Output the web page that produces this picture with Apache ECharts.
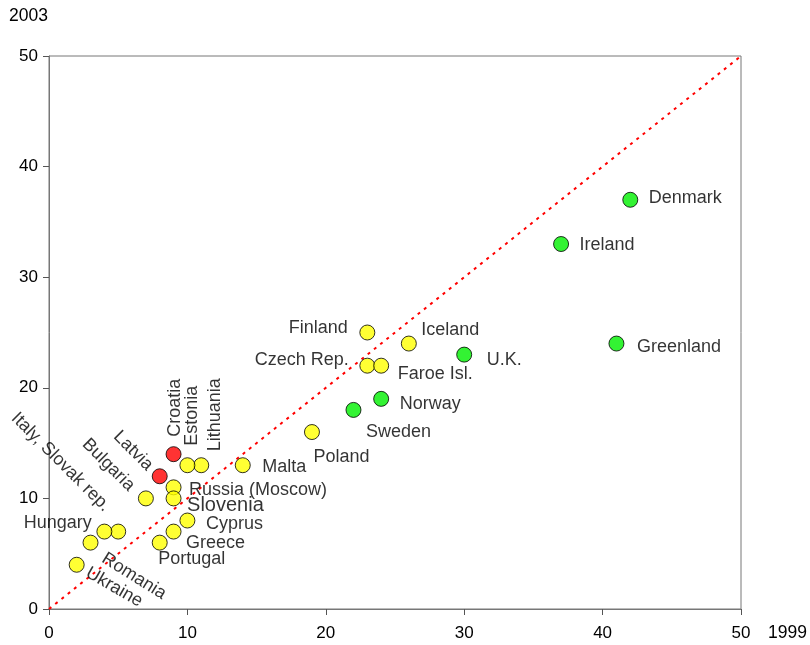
<!DOCTYPE html>
<html><head><meta charset="utf-8">
<script src="https://cdn.jsdelivr.net/npm/echarts@6/dist/echarts.min.js"></script>
<style>html,body{margin:0;padding:0;background:#fff}#c{width:810px;height:645px}</style>
</head><body><div id="c"></div>
<script>
// ---- data ----
const names = ["Denmark","Ireland","Greenland","U.K.","Norway","Sweden","Finland","Iceland","Czech Rep.","Faroe Isl.","Poland","Malta","Lithuania","Estonia","Croatia","Latvia","Russia (Moscow)","Slovenia","Bulgaria","Cyprus","Greece","Portugal","Italy, Slovak rep.","Hungary","Romania","Ukraine"];
const x1999 = [42,37,41,30,24,22,23,26,23,24,19,14,11,10,9,8,9,9,7,10,9,8,5,4,3,2];
const y2003 = [37,33,24,23,19,18,25,24,22,22,16,13,13,13,14,12,11,10,10,8,7,6,7,7,6,4];
const group = ["g","g","g","g","g","g","y","y","y","y","y","y","y","y","r","r","y","y","y","y","y","y","y","y","y","y"];
const xTicks = [0,10,20,30,40,50];
const yTicks = [0,10,20,30,40,50];
const xTitle = "1999", yTitle = "2003";

// ---- styles ----
const colors = {g:"#00f000", y:"#ffff00", r:"#ff0000"};
const SZ = 15, H = SZ/2;
// label layout: align, dx, dy (from point centre), rotate, fontSize
const lab = {
 "Denmark":["left",19,-1,0],
 "Ireland":["left",19,2,0],
 "Greenland":["left",21,4,0],
 "U.K.":["left",23,6,0],
 "Norway":["left",19,6,0],
 "Sweden":["left",13,23,0],
 "Finland":["right",-19,-4,0],
 "Iceland":["left",13,-13,0],
 "Czech Rep.":["right",-18,-5,0],
 "Faroe Isl.":["left",17,9,0],
 "Poland":["left",2,25,0],
 "Malta":["left",20,2,0],
 "Lithuania":["center",14,-50,90],
 "Estonia":["center",5,-49,90],
 "Croatia":["center",2,-46,90],
 "Latvia":["center",-26,-25,-45],
 "Russia (Moscow)":["left",16,3,0],
 "Slovenia":["left",14,8,0,20],
 "Bulgaria":["center",-37,-33,-45],
 "Cyprus":["left",19,4,0],
 "Greece":["left",13,12,0],
 "Portugal":["left",-1,17,0],
 "Italy, Slovak rep.":["center",-57,-69,-45],
 "Hungary":["right",-12,-8,0],
 "Romania":["center",44,34,-32],
 "Ukraine":["center",38,23,-30]
};
const FONT = "'Liberation Sans', Arial, Helvetica, sans-serif";

const pts = names.map((n,i)=>{
  const L = lab[n];
  return {
    name:n, value:[x1999[i], y2003[i]],
    itemStyle:{color:colors[group[i]], borderColor:"#000", borderWidth:1},
    label:{show:true, formatter:n, position:[H+L[1], H+L[2]], align:L[0], verticalAlign:"middle",
      rotate:L[3], fontSize:L[4]||18, color:"#000", fontFamily:FONT}
  };
});

const chart = echarts.init(document.getElementById('c'), null, {renderer:'canvas'});
const axisCommon = {
  axisLine:{show:true, lineStyle:{color:"#777", width:1}},
  axisTick:{show:true, length:6, lineStyle:{color:"#555"}},
  splitLine:{show:false},
  axisLabel:{fontSize:17, color:"#000", fontFamily:FONT},
};
chart.setOption({
  animation:false,
  backgroundColor:"#fff",
  grid:{left:49, right:69, top:56, bottom:36, show:true, borderColor:"#777", borderWidth:1, backgroundColor:"transparent"},
  xAxis:Object.assign({type:'value', min:xTicks[0], max:xTicks[xTicks.length-1], interval:xTicks[1]-xTicks[0]}, axisCommon,
    {axisLabel:Object.assign({}, axisCommon.axisLabel, {margin:16})}),
  yAxis:Object.assign({type:'value', min:yTicks[0], max:yTicks[yTicks.length-1], interval:yTicks[1]-yTicks[0]}, axisCommon,
    {axisLabel:Object.assign({}, axisCommon.axisLabel, {margin:11})}),
  graphic:[
    {type:'text', left:9, top:7, style:{text:yTitle, font:"17.5px "+FONT, fill:"#000"}},
    {type:'text', left:768, top:624, style:{text:xTitle, font:"17.5px "+FONT, fill:"#000"}}
  ],
  series:[
    {type:'line', data:[[xTicks[0],yTicks[0]],[xTicks[xTicks.length-1],yTicks[yTicks.length-1]]], symbol:'none', silent:true, z:1,
      lineStyle:{color:"#ff0000", width:2, type:[3,5]}},
    {type:'scatter', symbol:'circle', symbolSize:SZ, data:pts, z:3}
  ]
});
</script></body></html>
